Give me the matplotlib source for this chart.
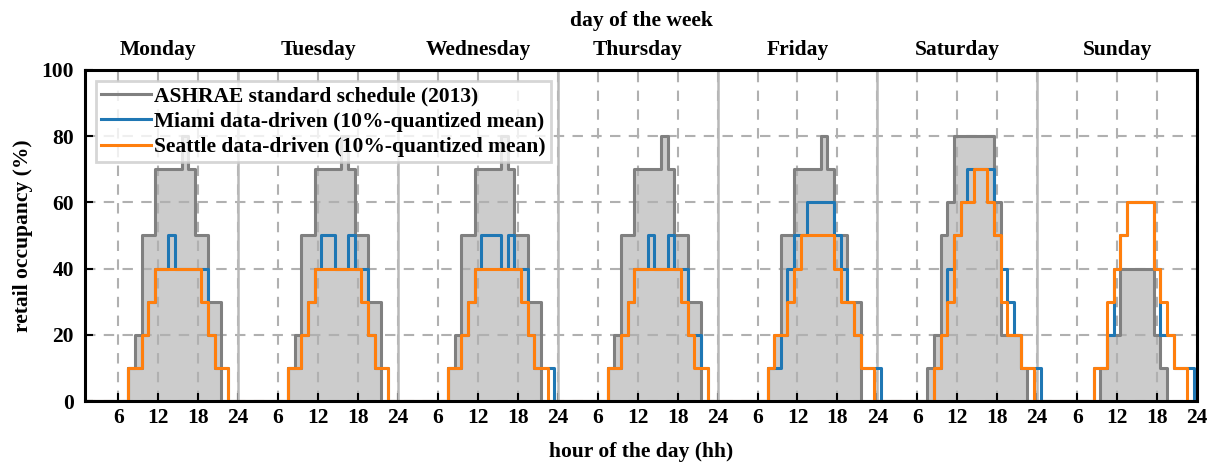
import matplotlib
matplotlib.use("Agg")
import matplotlib.pyplot as plt
import numpy as np

plt.rcParams['font.family'] = ['Liberation Serif', 'DejaVu Serif']
plt.rcParams['font.weight'] = 'bold'
plt.rcParams['font.size'] = 15.5

days = ['Monday', 'Tuesday', 'Wednesday', 'Thursday', 'Friday', 'Saturday', 'Sunday']

# hourly values, hour-ending 1..24
ashrae_wd = [0,0,0,0,0,0,0,10,20,50,50,70,70,70,70,80,70,50,50,30,30,0,0,0]
ashrae_sat = [0,0,0,0,0,0,0,10,20,50,60,80,80,80,80,80,80,60,20,20,20,10,0,0]
ashrae_sun = [0,0,0,0,0,0,0,0,0,10,20,20,40,40,40,40,40,20,10,0,0,0,0,0]

mia_mon = [0,0,0,0,0,0,0,10,10,20,30,40,40,50,40,40,40,40,40,20,10,10,0,0]
mia_tue = [0,0,0,0,0,0,0,10,10,20,30,40,50,50,40,40,50,40,40,20,10,10,0,0]
mia_wed = [0,0,0,0,0,0,0,10,10,20,30,40,50,50,50,40,50,40,40,20,10,10,10,0]
mia_thu = [0,0,0,0,0,0,0,10,10,20,30,40,40,50,40,40,50,40,40,20,20,10,0,0]
mia_fri = [0,0,0,0,0,0,0,10,10,20,40,50,50,60,60,60,60,50,40,30,20,10,10,10]
mia_sat = [0,0,0,0,0,0,0,0,10,20,40,50,60,70,70,70,70,50,40,30,20,10,10,10]
mia_sun = [0,0,0,0,0,0,0,0,10,10,20,40,50,60,60,60,60,40,20,20,10,10,10,0]

sea_wd = [0,0,0,0,0,0,0,10,10,20,30,40,40,40,40,40,40,40,30,20,10,10,0,0]
sea_fri = [0,0,0,0,0,0,0,10,20,20,30,40,50,50,50,50,50,40,30,30,20,10,10,0]
sea_sat = [0,0,0,0,0,0,0,0,10,20,30,50,60,60,70,70,60,50,30,20,20,10,10,0]
sea_sun = [0,0,0,0,0,0,0,0,10,10,30,40,50,60,60,60,60,40,30,20,10,10,0,0]

ashrae = np.array(ashrae_wd * 5 + ashrae_sat + ashrae_sun)
miami = np.array(mia_mon + mia_tue + mia_wed + mia_thu + mia_fri + mia_sat + mia_sun)
seattle = np.array(sea_wd * 4 + sea_fri + sea_sat + sea_sun)
hours = np.arange(1, 169)

fig = plt.figure(figsize=(12.17, 4.65), dpi=100)
ax = fig.add_axes([0.0698, 0.1376, 0.9138, 0.7119])

ax.fill_between(hours, ashrae, step='mid', color='#cccccc', lw=0, zorder=1)
ax.plot(hours, ashrae, drawstyle='steps-mid', color='#808080', lw=2.2,
        label='ASHRAE standard schedule (2013)', zorder=2)
ax.plot(hours, miami, drawstyle='steps-mid', color='#1f77b4', lw=2.2,
        label='Miami data-driven (10%-quantized mean)', zorder=2.1)
ax.plot(hours, seattle, drawstyle='steps-mid', color='#ff7f0e', lw=2.2,
        label='Seattle data-driven (10%-quantized mean)', zorder=2.2)

ax.set_xlim(1, 168)
ax.set_ylim(0, 100)
xt = np.arange(6, 169, 6)
ax.set_xticks(xt)
ax.set_xticklabels([str(t % 24 if t % 24 else 24) for t in xt])
ax.set_yticks(np.arange(0, 101, 20))
ax.tick_params(direction='in', length=6, width=1.5, top=False, right=False)
ax.tick_params(axis='y', pad=8)
ax.tick_params(axis='x', pad=5)

ax.set_axisbelow('line')
ax.grid(True, linestyle='--', color='#b0b0b0', lw=1.5, dashes=(5, 4))
for d in range(1, 7):
    ax.axvline(24 * d, color='#b8b8b8', lw=1.8, zorder=1.6)

for s in ax.spines.values():
    s.set_linewidth(2.2)

ax.set_xlabel('hour of the day (hh)', fontweight='bold', labelpad=10)
ax.set_ylabel('retail occupancy (%)', fontweight='bold', labelpad=6)

top = ax.twiny()
top.set_xlim(ax.get_xlim())
top.set_xticks(np.arange(12, 169, 24))
top.set_xticklabels(days)
top.tick_params(length=0, pad=7)
top.set_xlabel('day of the week', fontweight='bold', labelpad=10)

leg = ax.legend(loc='upper left', handlelength=2.3, handletextpad=0.15,
                borderpad=0.25, labelspacing=0.25, framealpha=0.8,
                fancybox=False, edgecolor='#cccccc')
leg.get_frame().set_linewidth(2)

fig.savefig('out.png', dpi=100)
